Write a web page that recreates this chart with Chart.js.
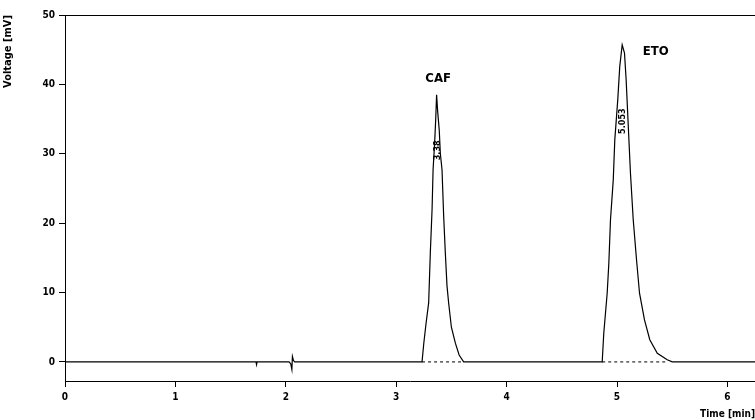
<!DOCTYPE html>
<html>
<head>
<meta charset="utf-8">
<script src="https://cdn.jsdelivr.net/npm/chart.js@4/dist/chart.umd.min.js"></script>
<style>
  html, body { margin: 0; padding: 0; background: #fff; }
  #wrap { width: 755px; height: 420px; }
</style>
</head>
<body>
<div id="wrap"><canvas id="chromChart" width="755" height="420"></canvas></div>
<script>
// detector trace, time in minutes, signal in mV
const traceTime = [
  0, 1.73, 1.735, 1.74, 2.03, 2.045, 2.055, 2.06, 2.07, 2.08,
  3.234, 3.25, 3.27, 3.294, 3.309, 3.325, 3.334, 3.348, 3.358, 3.366,
  3.376, 3.39, 3.40, 3.415, 3.43, 3.445, 3.46, 3.475, 3.50, 3.536, 3.57, 3.611,
  4.866, 4.88, 4.911, 4.926, 4.941, 4.966, 4.98, 5.007, 5.025, 5.047,
  5.068, 5.083, 5.122, 5.147, 5.177, 5.204, 5.249, 5.297, 5.365, 5.455, 5.50,
  6.25
];
const traceMv = [
  0, 0, -0.4, 0, 0, -0.3, -1.1, 0.8, 0.2, 0,
  0, 2.7, 5.5, 8.5, 15.7, 22, 27.7, 31.5, 35, 38.5,
  36, 33.4, 30, 27.7, 21, 15.7, 11, 8.5, 5, 2.7, 1, 0,
  0, 4.1, 9.9, 14.2, 20.5, 26.2, 32, 37.8, 42.6, 45.7,
  44.5, 40.6, 27.2, 20.5, 14.7, 9.9, 6.05, 3.2, 1.25, 0.3, 0,
  0
];

// integration baselines (start / end of each peak)
const baseStart = [3.234, 4.866];
const baseEnd = [3.611, 5.46];

// peak names and retention times
const peakNames = ['CAF', 'ETO'];
const peakTimes = [3.38, 5.053];
const peakLabelY = [40.9, 44.7];
const rtLabels = ['3.38', '5.053'];
const rtLabelY = [30.5, 34.7];

const xTicks = [0, 1, 2, 3, 4, 5, 6];
const yTicks = [0, 10, 20, 30, 40, 50];

const tickFont = { family: 'DejaVu Sans Condensed', size: 10, weight: 'bold' };

const traceData = traceTime.map((t, i) => ({ x: t, y: traceMv[i] }));
const baselineSets = baseStart.map((s, i) => ({
  data: [{ x: s, y: 0 }, { x: baseEnd[i], y: 0 }],
  borderColor: '#000',
  borderWidth: 1,
  borderDash: [3, 3],
  pointRadius: 0,
  showLine: true,
  tension: 0
}));

/* draws the top frame line plus the peak names and rotated retention times */
const peakText = {
  id: 'peakText',
  afterDatasetsDraw(chart) {
    const { ctx, chartArea, scales } = chart;
    ctx.save();
    ctx.strokeStyle = '#000';
    ctx.lineWidth = 1;
    ctx.beginPath();
    ctx.moveTo(chartArea.left, chartArea.top + 0.5);
    ctx.lineTo(chartArea.right, chartArea.top + 0.5);
    ctx.stroke();

    ctx.fillStyle = '#000';
    ctx.font = 'bold 13px "DejaVu Sans Condensed"';
    ctx.textBaseline = 'middle';
    // CAF centred above its peak, ETO sits to the right of the apex
    ctx.textAlign = 'center';
    ctx.fillText(peakNames[0], scales.x.getPixelForValue(peakTimes[0]), scales.y.getPixelForValue(peakLabelY[0]));
    ctx.textAlign = 'left';
    ctx.fillText(peakNames[1], scales.x.getPixelForValue(peakTimes[1]) + 20, scales.y.getPixelForValue(peakLabelY[1]));

    ctx.font = 'bold 9px "DejaVu Sans Condensed"';
    ctx.textAlign = 'center';
    rtLabels.forEach((txt, i) => {
      const px = scales.x.getPixelForValue(peakTimes[i]);
      const py = scales.y.getPixelForValue(rtLabelY[i]);
      ctx.save();
      ctx.translate(px, py);
      ctx.rotate(-Math.PI / 2);
      ctx.fillText(txt, 0, 0);
      ctx.restore();
    });
    ctx.restore();
  }
};

new Chart(document.getElementById('chromChart').getContext('2d'), {
  type: 'scatter',
  data: {
    datasets: [{
      data: traceData,
      borderColor: '#000',
      borderWidth: 1.2,
      pointRadius: 0,
      showLine: true,
      tension: 0
    }, ...baselineSets]
  },
  options: {
    responsive: false,
    animation: false,
    layout: { padding: { top: 15, right: 0, left: 0, bottom: 0 } },
    plugins: {
      legend: { display: false },
      tooltip: { enabled: false }
    },
    scales: {
      x: {
        type: 'linear',
        min: 0,
        max: 6.25,
        afterBuildTicks: (s) => { s.ticks = xTicks.map(v => ({ value: v })); },
        afterFit: (s) => { s.height = 39; },
        grid: { drawOnChartArea: false, tickLength: 6, color: '#000' },
        border: { color: '#000', width: 1 },
        ticks: { color: '#000', font: tickFont, padding: 4, maxRotation: 0 },
        title: {
          display: true, text: 'Time [min]', align: 'end',
          color: '#000', font: { family: 'DejaVu Sans Condensed', size: 10, weight: 'bold' },
          padding: { top: 0, bottom: 0 }
        }
      },
      y: {
        min: -2.75,
        max: 50,
        afterBuildTicks: (s) => { s.ticks = yTicks.map(v => ({ value: v })); },
        afterFit: (s) => { s.width = 65; },
        grid: { drawOnChartArea: false, tickLength: 6, color: '#000' },
        border: { color: '#000', width: 1 },
        ticks: { color: '#000', font: tickFont, padding: 4 },
        title: {
          display: true, text: 'Voltage [mV]', align: 'end',
          color: '#000', font: { family: 'DejaVu Sans Condensed', size: 11, weight: 'bold' },
          padding: { top: 2, bottom: 0 }
        }
      }
    }
  },
  plugins: [peakText]
});
</script>
</body>
</html>
